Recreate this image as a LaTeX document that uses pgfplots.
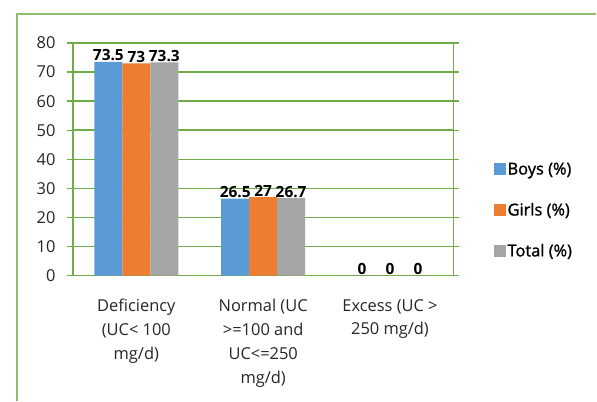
\documentclass[border=0pt]{standalone}
\usepackage{pgfplots}
\pgfplotsset{compat=1.18}
\usepackage{fontspec}
\setmainfont{Open Sans}
\newfontfamily\legfont[FakeBold=1.2]{Open Sans}
\definecolor{grn}{RGB}{112,173,71}
\definecolor{frm}{RGB}{140,190,110}
\definecolor{cb}{RGB}{91,155,213}
\definecolor{co}{RGB}{237,125,49}
\definecolor{cg}{RGB}{165,165,165}
\begin{document}
\begin{tikzpicture}[x=1bp,y=1bp]
\path[fill=white] (0,0) rectangle (597,401);
\draw[frm, line width=1.5bp] (17,0) -- (17,387) -- (597,387);
\begin{axis}[
  at={(73bp,125bp)}, anchor=south west,
  scale only axis, width=381bp, height=233bp,
  xmin=-0.5, xmax=2.5, ymin=0, ymax=80,
  ybar=0pt, bar width=28bp,
  axis line style={grn, line width=1.6bp},
  ytick={0,10,...,80}, ymajorgrids=true,
  every axis grid/.style={draw=grn, line width=1.6bp},
  every major grid/.style={draw=grn, line width=1.6bp},
  y grid style={draw=grn, line width=1.6bp},
  tick align=outside, major tick length=6bp,
  y tick style={grn, line width=1.4bp},
  xtick={0,1,2},
  xticklabels={{Deficiency\\(UC< 100\\mg/d)},{Normal (UC\\>=100 and\\UC<=250\\mg/d)},{Excess (UC >\\250 mg/d)}},
  x tick style={draw=none},
  extra x ticks={-0.5,0.5,1.5,2.5}, extra x tick labels={},
  extra x tick style={tick style={grn, line width=1.4bp, draw=grn}, grid=none},
  /pgf/number format/assume math mode=true,
  ticklabel style={font=\fontsize{16.5}{24}\selectfont, text=black!85},
  xticklabel style={align=center, yshift=-14bp},
  yticklabel style={xshift=-8bp},
  nodes near coords,
  every node near coord/.append style={font=\bfseries\fontsize{15.5}{15.5}\selectfont, text=black, inner sep=0.5bp},
  legend style={at={(1.105,0.281)}, anchor=west, draw=none, fill=none,
    font=\legfont\fontsize{16.5}{18}\selectfont, row sep=23bp, inner sep=0pt, text=black},
  legend cell align=left,
  legend image code/.code={\fill[#1] (0bp,-6bp) rectangle (12bp,6bp);},
]
\addplot[fill=cb, draw=none] coordinates {(0,73.5) (1,26.5) (2,0)};
\addplot[fill=co, draw=none] coordinates {(0,73) (1,27) (2,0)};
\addplot[fill=cg, draw=none] coordinates {(0,73.3) (1,26.7) (2,0)};
\legend{Boys (\%),Girls (\%),Total (\%)}
\end{axis}
\end{tikzpicture}
\end{document}
